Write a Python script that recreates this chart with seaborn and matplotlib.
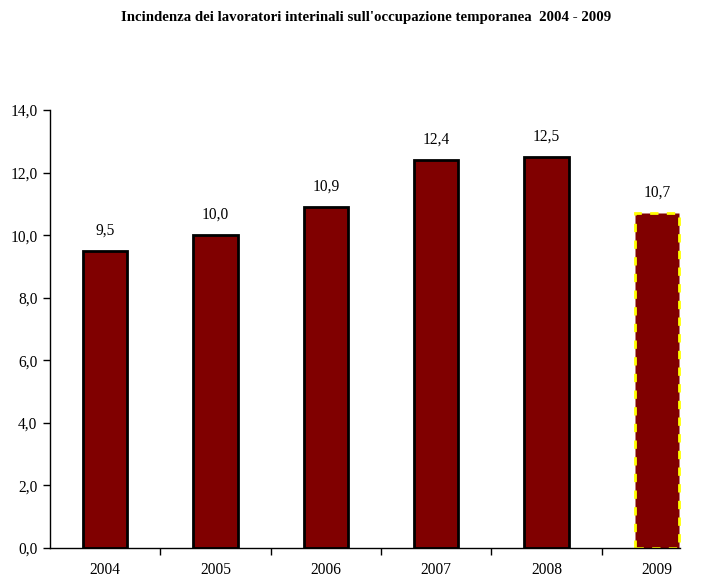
import matplotlib
matplotlib.use("Agg")
import matplotlib.pyplot as plt
import seaborn as sns
import pandas as pd
from matplotlib.ticker import FixedLocator

years = ["2004", "2005", "2006", "2007", "2008", "2009"]
values = [9.5, 10.0, 10.9, 12.4, 12.5, 10.7]
labels = ["9,5", "10,0", "10,9", "12,4", "12,5", "10,7"]
yticks = [0, 2, 4, 6, 8, 10, 12, 14]
ytick_labels = ["0,0", "2,0", "4,0", "6,0", "8,0", "10,0", "12,0", "14,0"]
title = "Incindenza dei lavoratori interinali sull'occupazione temporanea  2004 - 2009"

sns.set_style("white")
plt.rcParams["font.family"] = ["Liberation Serif", "DejaVu Serif"]
plt.rcParams["text.color"] = "black"
plt.rcParams["xtick.color"] = "black"
plt.rcParams["ytick.color"] = "black"

df = pd.DataFrame({"anno": years, "valore": values})

fig = plt.figure(figsize=(7.07, 5.8), dpi=100)
ax = fig.add_axes([50/707, 32/580, 662/707, 438/580])

sns.barplot(data=df, x="anno", y="valore", color="#800000", width=0.4,
            edgecolor="black", linewidth=2, saturation=1, ax=ax)

patches = ax.patches
last = patches[-1]
last.set_edgecolor("#FFFF00")
last.set_linestyle((0, (3, 3)))
last.set_linewidth(2)

for p, lab in zip(patches, labels):
    ax.text(p.get_x() + p.get_width()/2, p.get_height() + 0.4, lab,
            ha="center", va="bottom", fontsize=11.2, color="black")

ax.set_xlim(-0.5, 5.5)
ax.set_ylim(0, 14)
ax.set_yticks(yticks)
ax.set_yticklabels(ytick_labels, fontsize=11.2)
ax.set_xticks(range(len(years)))
ax.set_xticklabels(years, fontsize=11.2)
ax.tick_params(axis="x", which="major", length=0, pad=10, bottom=True)
ax.xaxis.set_minor_locator(FixedLocator([i + 0.5 for i in range(5)]))
ax.tick_params(axis="x", which="minor", length=5, width=1, color="black",
               direction="out", bottom=True)
ax.tick_params(axis="y", length=5, width=1, color="black", direction="out",
               pad=4, left=True)
ax.set_xlabel("")
ax.set_ylabel("")

for s in ["top", "right"]:
    ax.spines[s].set_visible(False)
for s in ["left", "bottom"]:
    ax.spines[s].set_color("black")
    ax.spines[s].set_linewidth(1)
ax.spines["bottom"].set_bounds(-0.5, 5.21)

fig.text(366/707, 1 - 18/580, title, ha="center", va="center", fontsize=10.7,
         fontweight="bold", color="black")

fig.savefig("out.png", dpi=100)
